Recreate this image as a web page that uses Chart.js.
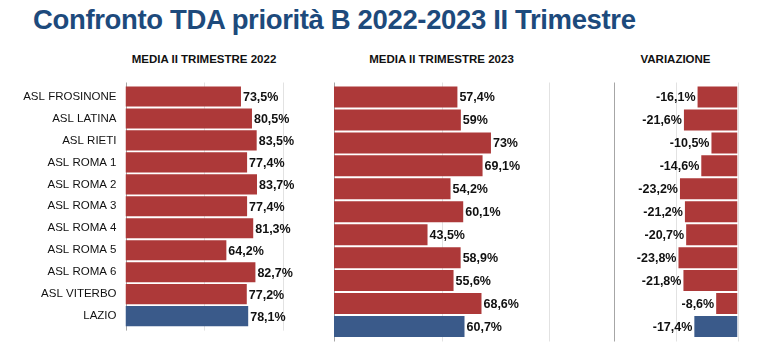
<!DOCTYPE html>
<html>
<head>
<meta charset="utf-8">
<script src="https://cdn.jsdelivr.net/npm/chart.js@4"></script>
<style>
body { margin: 0; background: #fff; width: 767px; height: 343px; overflow: hidden; position: relative; font-family: "Liberation Sans", Arial, sans-serif; }
#title { position: absolute; left: 33px; top: 6px; font-weight: bold; font-size: 27.5px; line-height: 28px; color: #1d4a7c; white-space: nowrap; }
.head { position: absolute; top: 53px; font-weight: bold; font-size: 11.5px; line-height: 12px; color: #111; transform: translateX(-50%); white-space: nowrap; }
canvas { position: absolute; top: 0; }
</style>
</head>
<body>
<div id="title">Confronto TDA priorità B 2022-2023 II Trimestre</div>
<div class="head" style="left:204px">MEDIA II TRIMESTRE 2022</div>
<div class="head" style="left:441.5px">MEDIA II TRIMESTRE 2023</div>
<div class="head" style="left:675.5px">VARIAZIONE</div>
<canvas id="c1" width="310" height="343" style="left:0"></canvas>
<canvas id="c2" width="280" height="343" style="left:320px"></canvas>
<canvas id="c3" width="197" height="343" style="left:570px"></canvas>
<script>
const categories = ['ASL FROSINONE', 'ASL LATINA', 'ASL RIETI', 'ASL ROMA 1', 'ASL ROMA 2', 'ASL ROMA 3',
    'ASL ROMA 4', 'ASL ROMA 5', 'ASL ROMA 6', 'ASL VITERBO', 'LAZIO']
const media2022 = [73.5, 80.5, 83.5, 77.4, 83.7, 77.4, 81.3, 64.2, 82.7, 77.2, 78.1]
const media2023 = [57.4, 59, 73, 69.1, 54.2, 60.1, 43.5, 58.9, 55.6, 68.6, 60.7]
const variazione = [-16.1, -21.6, -10.5, -14.6, -23.2, -21.2, -20.7, -23.8, -21.8, -8.6, -17.4]
const gridMedia = [0, 50, 100]
const gridVariazione = [-50, -25, 0]

const RED = '#ad3939'
const BLUE = '#3a5a8a'
const barColors = categories.map((c) => c === 'LAZIO' ? BLUE : RED)

// stretch the title to the width it has in the picture
const title = document.querySelector('#title')
const tw = title.getBoundingClientRect().width
title.style.letterSpacing = ((603 - tw) / (title.textContent.length - 1)) + 'px'

const fmt = (v) => String(v).replace('.', ',') + '%'

const gridLines = {
    id: 'gridLines',
    beforeDatasetsDraw(chart, args, opts) {
        const { ctx, chartArea, scales } = chart
        ctx.save()
        opts.values.forEach((v) => {
            const x = Math.round(scales.x.getPixelForValue(v)) + 0.5
            ctx.strokeStyle = v === opts.axis ? '#a6a6a6' : '#e2e2e2'
            ctx.lineWidth = 1
            ctx.beginPath()
            ctx.moveTo(x, chartArea.top - 3)
            ctx.lineTo(x, chartArea.bottom + 3.5)
            ctx.stroke()
        })
        ctx.restore()
    }
}

const valueLabels = {
    id: 'valueLabels',
    afterDatasetsDraw(chart) {
        const { ctx } = chart
        const meta = chart.getDatasetMeta(0)
        const data = chart.data.datasets[0].data
        ctx.save()
        ctx.font = 'bold 12.5px "Liberation Sans", Arial, sans-serif'
        ctx.fillStyle = '#111'
        ctx.textBaseline = 'middle'
        meta.data.forEach((bar, i) => {
            const v = data[i]
            ctx.textAlign = v >= 0 ? 'left' : 'right'
            ctx.fillText(fmt(v), v >= 0 ? bar.x + 2 : bar.x - 2, bar.y + 1)
        })
        ctx.restore()
    }
}

const makeChart = (id, values, min, max, padding, showLabels, grid, axis) => {
    return new Chart(document.getElementById(id), {
        type: 'bar',
        data: {
            labels: categories,
            datasets: [{
                data: values,
                backgroundColor: barColors,
                borderWidth: 0,
                barPercentage: 0.915,
                categoryPercentage: 1,
            }],
        },
        options: {
            indexAxis: 'y',
            responsive: false,
            animation: false,
            layout: { padding: padding },
            scales: {
                x: { display: false, min: min, max: max },
                y: {
                    display: showLabels,
                    grid: { display: false, drawTicks: false },
                    border: { display: false },
                    ticks: {
                        padding: 9,
                        color: '#111',
                        font: { family: '"Liberation Sans", Arial, sans-serif', size: 11.5 },
                    },
                    afterFit: (s) => { s.width = showLabels ? 125.5 : 0 },
                },
            },
            plugins: {
                legend: { display: false },
                tooltip: { enabled: false },
                gridLines: { values: grid, axis: axis },
            },
        },
        plugins: [gridLines, valueLabels],
    })
}

makeChart('c1', media2022, 0, 100, { left: 0, right: 27.4, top: 85.5, bottom: 5 }, true, gridMedia, 0)
makeChart('c2', media2023, 0, 100, { left: 14, right: 51, top: 85.5, bottom: 5 }, false, gridMedia, 0)
makeChart('c3', variazione, -50, 0, { left: 43.5, right: 29.5, top: 85.5, bottom: 5 }, false, gridVariazione, -50)
</script>
</body>
</html>
